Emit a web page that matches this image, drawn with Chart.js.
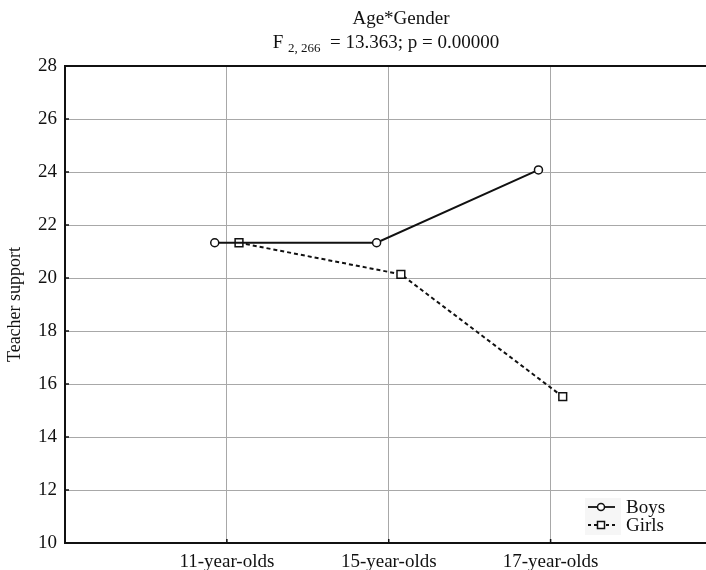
<!DOCTYPE html>
<html>
<head>
<meta charset="utf-8">
<script src="https://cdn.jsdelivr.net/npm/chart.js@4/dist/chart.umd.min.js"></script>
<style>
  html, body { margin: 0; padding: 0; background: #fff; overflow: hidden; }
</style>
</head>
<body>
<canvas id="chart" width="713" height="570"></canvas>
<script>
const categories = ["11-year-olds", "15-year-olds", "17-year-olds"];
const boys = [21.33, 21.33, 24.08];
const girls = [21.33, 20.14, 15.52];
const yTicks = [10, 12, 14, 16, 18, 20, 22, 24, 26, 28];

const serif = "'Liberation Serif', 'DejaVu Serif', serif";
const shift = 0.075; // points sit a bit left (boys) / right (girls) of each group

function toPoints(values, dx) {
  return values.map((v, i) => ({ x: i + 1 + dx, y: v }));
}

// title with subscript + legend box inside the plot
const extras = {
  id: "extras",
  afterDraw(chart) {
    const c = chart.ctx;
    c.save();
    c.fillStyle = "#111";
    c.textBaseline = "alphabetic";
    c.font = "19px " + serif;
    c.textAlign = "center";
    c.fillText("Age*Gender", 401, 24);

    // F with subscript
    c.textAlign = "left";
    const a = "F ", sub = "2, 266", b = "  = 13.363; p = 0.00000";
    c.font = "19px " + serif;
    const wa = c.measureText(a).width, wb = c.measureText(b).width;
    c.font = "13px " + serif;
    const ws = c.measureText(sub).width;
    let x = 386 - (wa + ws + wb) / 2;
    c.font = "19px " + serif;
    c.fillText(a, x, 48);
    x += wa;
    c.font = "13px " + serif;
    c.fillText(sub, x, 52);
    x += ws;
    c.font = "19px " + serif;
    c.fillText(b, x, 48);

    // legend
    c.fillStyle = "#f6f6f6";
    c.fillRect(585, 498, 36, 37);
    const rows = [
      { label: "Boys", y: 507, dash: [], style: "circle" },
      { label: "Girls", y: 525, dash: [3, 3], style: "rect" }
    ];
    rows.forEach(r => {
      c.strokeStyle = "#111";
      c.lineWidth = 1.8;
      c.setLineDash(r.dash);
      c.beginPath();
      c.moveTo(588, r.y);
      c.lineTo(615, r.y);
      c.stroke();
      c.setLineDash([]);
      c.fillStyle = "#fff";
      c.lineWidth = 1.5;
      c.beginPath();
      if (r.style === "circle") c.arc(601, r.y, 3.5, 0, Math.PI * 2);
      else c.rect(597.5, r.y - 3.5, 7, 7);
      c.fill();
      c.stroke();
      c.fillStyle = "#111";
      c.font = "19px " + serif;
      c.fillText(r.label, 626, r.y + 6);
    });

    // short inner tick marks
    const xs = chart.scales.x, ys = chart.scales.y;
    c.strokeStyle = "#111";
    c.lineWidth = 1.5;
    c.beginPath();
    yTicks.forEach(v => {
      const py = ys.getPixelForValue(v);
      c.moveTo(xs.left, py);
      c.lineTo(xs.left + 4, py);
    });
    [1, 2, 3].forEach(v => {
      const px = xs.getPixelForValue(v);
      c.moveTo(px, ys.bottom);
      c.lineTo(px, ys.bottom - 4);
    });
    c.stroke();
    c.restore();
  }
};

new Chart(document.getElementById("chart").getContext("2d"), {
  type: "line",
  data: {
    datasets: [
      {
        label: "Boys",
        data: toPoints(boys, -shift),
        borderColor: "#111",
        borderWidth: 2,
        pointStyle: "circle",
        pointRadius: 4,
        pointBorderWidth: 1.5,
        pointBackgroundColor: "#fff",
        pointBorderColor: "#111"
      },
      {
        label: "Girls",
        data: toPoints(girls, shift),
        borderColor: "#111",
        borderWidth: 2,
        borderDash: [4, 3],
        pointStyle: "rect",
        pointRadius: 5.5,
        pointBorderWidth: 1.5,
        pointBackgroundColor: "#fff",
        pointBorderColor: "#111"
      }
    ]
  },
  options: {
    responsive: false,
    animation: false,
    layout: { padding: { top: 66, right: 0, left: 0, bottom: 0 } },
    plugins: {
      legend: { display: false },
      title: { display: false },
      tooltip: { enabled: false }
    },
    scales: {
      x: {
        type: "linear",
        min: 0,
        max: 3.96,
        afterBuildTicks(scale) {
          scale.ticks = [1, 2, 3].map(v => ({ value: v }));
        },
        afterFit(scale) { scale.height = 27; },
        border: { display: true, color: "#111", width: 2 },
        grid: { color: "#a8a8a8", lineWidth: 1, drawTicks: false },
        ticks: {
          autoSkip: false,
          maxRotation: 0,
          padding: 8,
          color: "#111",
          font: { family: serif, size: 19 },
          callback: v => categories[v - 1]
        }
      },
      y: {
        min: 10,
        max: 28,
        afterBuildTicks(scale) {
          scale.ticks = yTicks.map(v => ({ value: v }));
        },
        afterFit(scale) { scale.width = 65; },
        border: { display: true, color: "#111", width: 2 },
        grid: {
          color: ctx => ctx.tick && ctx.tick.value === 28 ? "#111" : "#a8a8a8",
          lineWidth: ctx => ctx.tick && ctx.tick.value === 28 ? 2 : 1,
          drawTicks: false
        },
        ticks: {
          padding: 8,
          color: "#111",
          font: { family: serif, size: 19 }
        },
        title: {
          display: true,
          text: "Teacher support",
          color: "#111",
          font: { family: serif, size: 18 },
          padding: { top: 4, bottom: 0 }
        }
      }
    }
  },
  plugins: [extras]
});
</script>
</body>
</html>
